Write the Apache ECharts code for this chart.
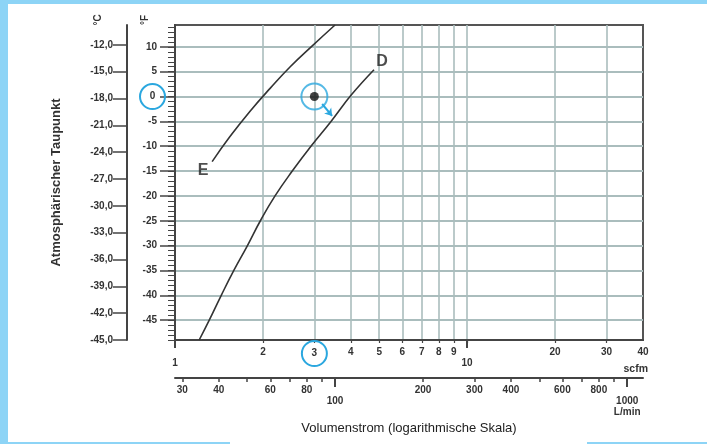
<!DOCTYPE html>
<html><head><meta charset="utf-8">
<script src="https://cdn.jsdelivr.net/npm/echarts@6/dist/echarts.min.js"></script>
<style>
html,body{margin:0;padding:0;background:#8dd4f6;}
#wrap{position:relative;width:707px;height:444px;overflow:hidden;}
#panel{position:absolute;left:8px;top:4px;width:699px;height:438px;background:#fff;}
#gap{position:absolute;left:230px;top:442px;width:357px;height:2px;background:#fff;}
#c{position:absolute;left:0;top:0;width:707px;height:444px;}
</style>
</head><body>
<div id="wrap"><div id="panel"></div><div id="gap"></div><div id="c"></div></div>
<script>
// ---------------- data ----------------
const scfmGridTicks = [2,3,4,5,6,7,8,9,10,20,30];
const scfmLabels    = [1,2,4,5,6,7,8,9,10,20,30,40];
const scfmLongTicks = [1,10];
const scfmRingLabel = [3];
const lpmTicks      = [30,40,50,60,70,80,90,100,200,300,400,500,600,700,800,900,1000];
const lpmLabels     = [30,40,60,80,100,200,300,400,600,800,1000];
const lpmLongTicks  = [100,1000];
const tempFTicks    = [10,5,0,-5,-10,-15,-20,-25,-30,-35,-40,-45];
const tempFRingLabel = [0];
const tempCTicks    = [-12,-15,-18,-21,-24,-27,-30,-33,-36,-39,-42,-45];

const curveE_scfm = [1.34, 1.54, 1.81, 2.12, 2.48, 2.95, 3.53];
const curveE_F    = [-13.1, -8.1, -2.9, 1.7, 6.0, 10.2, 14.4];
const curveD_scfm = [1.21, 1.31, 1.44, 1.59, 1.77, 1.96, 2.20, 2.52, 2.92, 3.42, 4.01, 4.80];
const curveD_F    = [-49, -45, -40, -35, -30, -25, -20, -15, -10, -5, 0.3, 5.4];
const pointScfm = [3];
const pointF    = [0];
const arrowFrom = [3.19, -1.5];
const arrowTo   = [3.45, -3.9];

const SCFM_MIN = 1, SCFM_MAX = 40;
const F_MIN = -49, F_MAX = 14.4;
const LPM_PER_SCFM = 28.3168;

// ---------------- styles ----------------
const FONT = 'Liberation Sans, Arial, Helvetica, sans-serif';
const BLUE = '#2aa7df';
const GRIDC = '#aabdbd';
const AXC = '#444';
const lbl = {fontFamily: FONT, fontSize: 10, fontWeight: 'bold', color: '#333', lineHeight: 11};
const ringRich = {r: {width: 25, height: 25, lineHeight: 25, align: 'center', verticalAlign: 'middle',
  borderColor: BLUE, borderWidth: 2, borderRadius: 13, fontFamily: FONT, fontSize: 10, fontWeight: 'bold', color: '#333'}};

const L = Math.log10;
const fToC = f => (f - 32) / 1.8;
const tempFMinor = [];
for (let v = Math.ceil(F_MIN); v <= Math.floor(F_MAX); v++) tempFMinor.push(v);

function decoX(extra, lpm) {
  const lo = lpm ? L(SCFM_MIN * LPM_PER_SCFM) : L(SCFM_MIN);
  const hi = lpm ? L(SCFM_MAX * LPM_PER_SCFM) : L(SCFM_MAX);
  return Object.assign({
    type: 'value', gridIndex: 0, position: 'bottom', min: lo, max: hi,
    axisLine: {show: false, onZero: false},
    axisTick: {show: false}, axisLabel: {show: false}, splitLine: {show: false}
  }, extra);
}
const logs = a => a.map(v => L(v));
const unlog = v => Math.round(Math.pow(10, v));

const option = {
  animation: false,
  backgroundColor: 'transparent',
  grid: {left: 175, top: 25, width: 468, height: 315, show: true, backgroundColor: '#fff',
         borderColor: '#555', borderWidth: 2, containLabel: false, outerBoundsMode: 'none'},
  xAxis: [
    {type: 'log', logBase: 10, min: SCFM_MIN, max: SCFM_MAX, gridIndex: 0, show: false, position: 'bottom',
     axisLine: {onZero: false}, splitLine: {show: false}},
    decoX({
      axisLine: {show: true, onZero: false, lineStyle: {color: AXC, width: 2}},
      axisTick: {show: true, length: 3, customValues: logs(scfmGridTicks), lineStyle: {color: AXC, width: 1.2}},
      splitLine: {show: true, lineStyle: {color: GRIDC, width: 1.6}},
      axisLabel: Object.assign({show: true, margin: 7, customValues: logs(scfmLabels),
        formatter: v => { const n = unlog(v); return (n === 1 || n === 10) ? '\n' + n : '' + n; }}, lbl)
    }),
    decoX({axisTick: {show: true, length: 8, customValues: logs(scfmLongTicks), lineStyle: {color: AXC, width: 2}}}),
    decoX({axisLabel: {show: true, margin: 1, customValues: logs(scfmRingLabel),
      formatter: v => '{r|' + unlog(v) + '}', rich: ringRich}}),
    decoX({
      offset: 38,
      axisLine: {show: true, onZero: false, lineStyle: {color: AXC, width: 2}},
      axisTick: {show: true, length: 4, customValues: logs(lpmTicks), lineStyle: {color: AXC, width: 1.5}},
      axisLabel: Object.assign({show: true, margin: 6.5, customValues: logs(lpmLabels),
        formatter: v => { const n = unlog(v); return n === 1000 ? '\n1000\nL/min' : (n === 100 ? '\n100' : '' + n); }}, lbl),
      name: 'Volumenstrom (logarithmische Skala)', nameLocation: 'middle', nameGap: 44,
      nameTextStyle: {fontFamily: FONT, fontSize: 13, color: '#222'}
    }, true),
    decoX({offset: 38, axisTick: {show: true, length: 9, customValues: logs(lpmLongTicks), lineStyle: {color: AXC, width: 2}}}, true)
  ],
  yAxis: [
    {type: 'value', gridIndex: 0, position: 'left', min: F_MIN, max: F_MAX,
     axisLine: {show: true, onZero: false, lineStyle: {color: AXC, width: 2}},
     axisTick: {show: true, length: 15, customValues: tempFTicks, lineStyle: {color: AXC, width: 1.5}},
     axisLabel: Object.assign({margin: 18, customValues: tempFTicks.filter(v => !tempFRingLabel.includes(v))}, lbl),
     splitLine: {show: true, lineStyle: {color: GRIDC, width: 1.8}}},
    {type: 'value', gridIndex: 0, position: 'left', min: F_MIN, max: F_MAX,
     axisLine: {show: false, onZero: false},
     axisTick: {show: true, length: 7, customValues: tempFMinor, lineStyle: {color: AXC, width: 1}},
     axisLabel: {show: false}, splitLine: {show: false}},
    {type: 'value', gridIndex: 0, position: 'left', min: F_MIN, max: F_MAX,
     axisLine: {show: false, onZero: false}, axisTick: {show: false}, splitLine: {show: false},
     axisLabel: {show: true, margin: 10, customValues: tempFRingLabel, formatter: v => '{r|' + v + '}', rich: ringRich}},
    {type: 'value', gridIndex: 0, position: 'left', offset: 48, min: fToC(F_MIN), max: fToC(F_MAX),
     axisLine: {show: true, onZero: false, lineStyle: {color: AXC, width: 2}},
     axisTick: {show: true, length: 14, customValues: tempCTicks, lineStyle: {color: AXC, width: 1.5}},
     axisLabel: Object.assign({margin: 14, customValues: tempCTicks,
       formatter: v => v.toFixed(1).replace('.', ',')}, lbl),
     splitLine: {show: false},
     name: 'Atmosphärischer Taupunkt', nameLocation: 'middle', nameGap: 64,
     nameTextStyle: {fontFamily: FONT, fontSize: 13, fontWeight: 'bold', color: '#333'}}
  ],
  graphic: [
    {type: 'text', x: 98, y: 20, rotation: Math.PI / 2,
     style: {text: '°C', fontFamily: FONT, fontSize: 10, fontWeight: 'bold', fill: '#333', align: 'center', verticalAlign: 'middle'}},
    {type: 'text', x: 145, y: 20, rotation: Math.PI / 2,
     style: {text: '°F', fontFamily: FONT, fontSize: 10, fontWeight: 'bold', fill: '#333', align: 'center', verticalAlign: 'middle'}},
    {type: 'text', x: 648, y: 369,
     style: {text: 'scfm', fontFamily: FONT, fontSize: 10.5, fontWeight: 'bold', fill: '#333', align: 'right', verticalAlign: 'middle'}}
  ],
  series: [
    {type: 'line', name: 'E', xAxisIndex: 0, yAxisIndex: 0, smooth: 0.45, showSymbol: false, silent: true,
     data: curveE_scfm.map((x, i) => [x, curveE_F[i]]),
     lineStyle: {color: '#333', width: 1.6}},
    {type: 'line', name: 'D', xAxisIndex: 0, yAxisIndex: 0, smooth: 0.45, showSymbol: false, silent: true,
     data: curveD_scfm.map((x, i) => [x, curveD_F[i]]),
     lineStyle: {color: '#333', width: 1.6}},
    {type: 'scatter', xAxisIndex: 0, yAxisIndex: 0, silent: true, clip: false,
     symbol: 'circle', symbolSize: 0.1, itemStyle: {color: 'rgba(0,0,0,0)'},
     label: {show: true, position: 'inside', formatter: p => p.name,
       fontFamily: FONT, fontSize: 16, fontWeight: 'bold', color: '#222'},
     data: [
       {name: 'E', value: [curveE_scfm[0], curveE_F[0]], label: {offset: [-9, 9]}},
       {name: 'D', value: [curveD_scfm[curveD_scfm.length - 1], curveD_F[curveD_F.length - 1]], label: {offset: [8, -8]}}
     ]},
    {type: 'scatter', xAxisIndex: 0, yAxisIndex: 0, silent: true, symbol: 'circle', symbolSize: 26,
     itemStyle: {color: 'rgba(0,0,0,0)', borderColor: BLUE, borderWidth: 2},
     data: pointScfm.map((x, i) => [x, pointF[i]])},
    {type: 'scatter', xAxisIndex: 0, yAxisIndex: 0, silent: true, symbol: 'circle', symbolSize: 9,
     itemStyle: {color: '#111'},
     data: pointScfm.map((x, i) => [x, pointF[i]])},
    {type: 'lines', coordinateSystem: 'cartesian2d', xAxisIndex: 0, yAxisIndex: 0, silent: true,
     symbol: ['none', 'arrow'], symbolSize: 7,
     lineStyle: {color: BLUE, width: 2, opacity: 1},
     data: [{coords: [arrowFrom, arrowTo]}]}
  ]
};
const chart = echarts.init(document.getElementById('c'), null, {renderer: 'canvas'});
chart.setOption(option);
</script>
</body></html>
